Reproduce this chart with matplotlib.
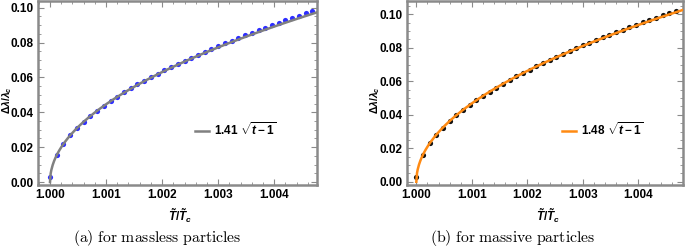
import numpy as np
import matplotlib
matplotlib.use("Agg")
import matplotlib.pyplot as plt
from matplotlib.ticker import MultipleLocator, FormatStrFormatter

plt.rcParams['font.family'] = ['Liberation Sans', 'DejaVu Sans']
plt.rcParams['font.weight'] = 'bold'
plt.rcParams['mathtext.fontset'] = 'custom'
plt.rcParams['mathtext.rm'] = 'Liberation Sans:bold'
plt.rcParams['mathtext.it'] = 'Liberation Sans:bold:italic'
plt.rcParams['mathtext.bf'] = 'Liberation Sans:bold'

# temperature ratio T/Tc (same grid in both panels)
t_vals = [1.0, 1.00012, 1.00024, 1.00036, 1.00048, 1.0006, 1.00072, 1.00084,
          1.00096, 1.00108, 1.0012, 1.00132, 1.00144, 1.00156, 1.00168,
          1.0018, 1.00192, 1.00204, 1.00216, 1.00228, 1.0024, 1.00252,
          1.00264, 1.00276, 1.00288, 1.003, 1.00312, 1.00324, 1.00336,
          1.00348, 1.0036, 1.00372, 1.00384, 1.00396, 1.00408, 1.0042,
          1.00432, 1.00444, 1.00456, 1.00468]

# (a) massless particles
massless = [0.0030, 0.0155, 0.0219, 0.0268, 0.0309, 0.0346, 0.0379, 0.0410,
            0.0438, 0.0465, 0.0490, 0.0515, 0.0538, 0.0560, 0.0581, 0.0602,
            0.0622, 0.0641, 0.0660, 0.0678, 0.0696, 0.0714, 0.0731, 0.0748,
            0.0764, 0.0780, 0.0796, 0.0811, 0.0827, 0.0842, 0.0856, 0.0871,
            0.0885, 0.0899, 0.0913, 0.0927, 0.0940, 0.0954, 0.0967, 0.0980]
coef_a = 1.41

# (b) massive particles
massive = [0.0030, 0.0162, 0.0229, 0.0281, 0.0324, 0.0363, 0.0397, 0.0429,
           0.0459, 0.0487, 0.0513, 0.0538, 0.0562, 0.0586, 0.0608, 0.0629,
           0.0650, 0.0670, 0.0690, 0.0709, 0.0727, 0.0746, 0.0763, 0.0781,
           0.0798, 0.0814, 0.0830, 0.0846, 0.0862, 0.0878, 0.0893, 0.0908,
           0.0923, 0.0937, 0.0951, 0.0965, 0.0979, 0.0993, 0.1007, 0.1020]
coef_b = 1.48

W, H = 685, 247
panels = [
    dict(pos=[38/W, 1-185/H, (317-38)/W, 184/H], y=massless, c=coef_a,
         pc='#2d2dff', lc='#808080', xlim=(0.999786, 1.004762),
         ylim=(-0.0017, 0.1038), leg=(0.563, 0.30), ylx=7, xlx=180,
         cap='(a) for massless particles', capx=157),
    dict(pos=[407/W, 1-185/H, (683-407)/W, 184/H], y=massive, c=coef_b,
         pc='#111111', lc='#ff8a12', xlim=(0.999832, 1.004805),
         ylim=(-0.0019, 0.1079), leg=(0.562, 0.30), ylx=375, xlx=548,
         cap='(b) for massive particles', capx=513),
]

fig = plt.figure(figsize=(W/100, H/100), dpi=100)
gray = '#8a8a8a'

for p in panels:
    ax = fig.add_axes(p['pos'])
    ax.scatter(t_vals, p['y'], s=14, color=p['pc'], zorder=2, linewidths=0)
    tt = np.linspace(1.0, p['xlim'][1], 400)
    ax.plot(tt, p['c'] * np.sqrt(tt - 1.0), color=p['lc'], lw=1.8, zorder=3,
            label=r'%.2f $\sqrt{t-1}$' % p['c'])
    ax.set_xlim(*p['xlim'])
    ax.set_ylim(*p['ylim'])
    ax.xaxis.set_major_locator(MultipleLocator(0.001))
    ax.xaxis.set_minor_locator(MultipleLocator(0.0002))
    ax.yaxis.set_major_locator(MultipleLocator(0.02))
    ax.yaxis.set_minor_locator(MultipleLocator(0.005))
    ax.xaxis.set_major_formatter(FormatStrFormatter('%.3f'))
    ax.yaxis.set_major_formatter(FormatStrFormatter('%.2f'))
    ax.tick_params(which='both', direction='in', top=True, right=True,
                   color=gray, labelsize=8.5, labelcolor='black', pad=3)
    ax.tick_params(which='major', length=4, width=0.8)
    ax.tick_params(which='minor', length=2, width=0.6)
    for s in ax.spines.values():
        s.set_color(gray)
        s.set_linewidth(1.8)
    ax.legend(loc='center left', bbox_to_anchor=p['leg'], frameon=False,
              fontsize=8.5, handlelength=1.15, handletextpad=0.45,
              borderpad=0, borderaxespad=0)
    # axis titles placed where the reference has them
    fig.text(p['ylx']/W, 1-100/H, r'$\Delta\lambda/\lambda_c$', rotation=90,
             ha='center', va='center', fontsize=7.5)
    fig.text(p['xlx']/W, 1-216/H, r'$\tilde{T}/\tilde{T}_c$',
             ha='center', va='center', fontsize=8.5)
    fig.text(p['capx']/W, 1-238/H, r'$\mathrm{%s}$' % p['cap'].replace(' ', r'\ '),
             ha='center', va='center', fontsize=11.3, math_fontfamily='cm')

fig.savefig('out.png', dpi=100)
